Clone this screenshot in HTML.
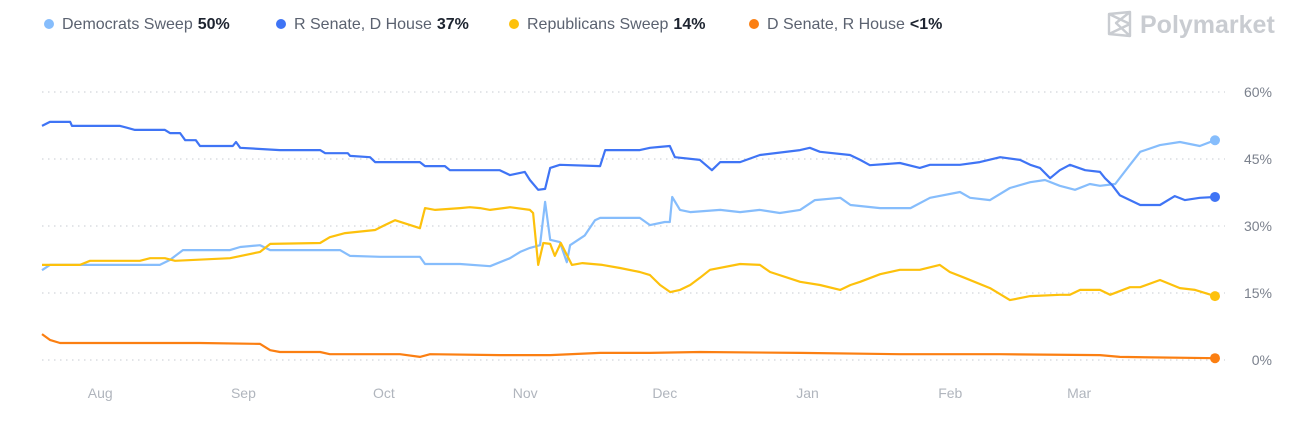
<!DOCTYPE html>
<html><head><meta charset="utf-8">
<style>
body{margin:0;background:#fff;font-family:"Liberation Sans",sans-serif;}
#wrap{position:relative;width:1290px;height:422px;overflow:hidden;}
.leg{position:absolute;top:16px;font-size:16px;color:#5b6270;white-space:nowrap;}
.leg b{color:#1d2430;font-weight:bold;margin-left:5px}
.dot{display:inline-block;width:10px;height:10px;border-radius:50%;margin-right:8px;vertical-align:0px}
</style></head><body>
<div id="wrap">
<div class="leg" style="left:44px"><span class="dot" style="background:#86bdfc"></span>Democrats Sweep<b>50%</b></div>
<div class="leg" style="left:276px"><span class="dot" style="background:#3f74f5"></span>R Senate, D House<b>37%</b></div>
<div class="leg" style="left:509px"><span class="dot" style="background:#fdc10c"></span>Republicans Sweep<b>14%</b></div>
<div class="leg" style="left:749px"><span class="dot" style="background:#fb7f12"></span>D Senate, R House<b>&lt;1%</b></div>
<div style="position:absolute;left:1106px;top:10px;color:#c9ccd1;font-size:25px;font-weight:bold;white-space:nowrap">
<svg width="28" height="28" viewBox="0 0 28 28" style="vertical-align:-5px;margin-right:6px"><path d="M3 4 L24 2 L24 26 L3 24 Z M3 4 L24 14 L3 24 M24 2 L10 13 L24 26" fill="none" stroke="#c9ccd1" stroke-width="2.4" stroke-linejoin="round"/></svg>Polymarket</div>
<svg id="chart" width="1290" height="422" style="position:absolute;left:0;top:0"></svg>
</div>
<script>
const yTicks=[0,15,30,45,60];
const monthLabels=["Aug","Sep","Oct","Nov","Dec","Jan","Feb","Mar"];
const monthDays=[12.6,43.6,74,104.6,134.8,165.7,196.6,224.5];
const rsDays=[0,1.7,6.1,6.5,12.6,16.9,20.1,26.6,27.7,29.9,31,33.3,34.2,41.3,42,42.9,51.5,60.2,61.3,66.2,66.7,71,72.1,81.8,82.9,87.2,88.3,99.1,101.3,104.5,105.6,107.4,108.9,110,112.1,120.8,121.9,129.4,131.6,133.8,135.9,137,142.4,145,146.8,151.1,155.4,164.1,166.2,168.4,174.9,177.1,179.2,185.7,190,192.2,198.7,203,207.4,211.7,213.9,216,218.2,220.3,222.5,225.8,229,230.1,231.6,233.3,235.5,237.7,242,245.2,247.4,250.6,253.9];
const rsVals=[52.4,53.3,53.3,52.4,52.4,52.4,51.5,51.5,50.8,50.8,49.2,49.2,47.9,47.9,48.8,47.5,47,47,46.3,46.3,45.7,45.4,44.3,44.3,43.4,43.4,42.5,42.5,41.4,42.1,40.3,38.1,38.3,43,43.7,43.4,47,47,47.5,47.7,47.9,45.4,44.8,42.5,44.3,44.3,45.9,47,47.5,46.6,45.9,44.8,43.6,44.1,43,43.7,43.7,44.3,45.4,44.8,43.7,43,40.7,42.5,43.7,42.5,42.1,40.7,39.2,36.9,35.8,34.7,34.7,36.7,35.8,36.3,36.5];
const dsDays=[0,1.7,12.6,16.9,25.5,27.7,30.5,40.7,42.9,47.2,49.4,64.5,66.7,73.2,81.8,82.9,90.5,97,101.3,103.5,105.6,107.8,108.9,110,112.1,113.6,114.3,117.5,119.7,120.8,129.4,131.6,134.8,135.9,136.4,138.1,140.3,146.8,151.1,155.4,159.7,164.1,167.3,172.8,175,181.4,188,192.2,198.7,200.9,205.2,209.5,213.9,217.1,220.3,223.6,226.8,229,232.3,235.5,237.7,242,246.3,250.6,253.9];
const dsVals=[20.1,21.3,21.3,21.3,21.3,22.4,24.6,24.6,25.3,25.7,24.6,24.6,23.3,23.1,23.1,21.5,21.5,21,22.8,24.2,25.1,25.7,35.4,26.9,26.4,21.9,25.7,27.9,31.3,31.8,31.8,30.2,30.9,30.9,36.5,33.6,33.1,33.6,33.1,33.6,32.9,33.6,35.8,36.3,34.7,34,34,36.3,37.6,36.3,35.8,38.5,39.8,40.3,39,38.1,39.4,39,39.4,43.7,46.6,48.1,48.8,47.9,49.2];
const rpDays=[0,8.2,10.4,21.2,23.4,26.6,28.8,40.7,47.2,49.4,60.2,62.3,65.6,72.1,74.2,76.4,81.8,82.9,85.1,90.5,92.6,94.8,97,101.3,105.6,106.3,107.4,108.5,110,111,112.3,114.7,117,121.3,125.1,129.4,131.6,133.8,136,138.1,140.3,142.4,144.6,151.1,155.4,157.6,164.1,168.4,172.8,175,177.1,181.4,185.7,190,194.3,196.5,199.7,205.2,209.5,213.9,220.3,222.5,224.7,229,231.2,235.5,237.7,242,246.3,249.6,253.9];
const rpVals=[21.3,21.3,22.2,22.2,22.8,22.8,22.2,22.8,24.2,26,26.2,27.5,28.4,29.1,30.2,31.3,29.5,34,33.6,34,34.2,34,33.6,34.2,33.6,32.9,21.3,26.2,26,23.3,26.2,21.3,21.7,21.3,20.6,19.7,19,16.8,15.2,15.7,16.8,18.4,20.2,21.5,21.3,19.7,17.5,16.8,15.7,16.8,17.5,19.2,20.2,20.2,21.3,19.7,18.4,16.1,13.4,14.3,14.6,14.6,15.7,15.7,14.6,16.3,16.3,17.9,16.1,15.7,14.3];
const drDays=[0,1.7,3.9,12.6,34.2,47.2,49.4,51.5,60.2,62.3,77.5,81.8,84,99.1,110,120.8,131.6,142.4,164.1,185.7,207.4,229,233.3,253.9];
const drVals=[5.8,4.5,3.8,3.8,3.8,3.6,2.2,1.8,1.8,1.3,1.3,0.7,1.3,1.1,1.1,1.6,1.6,1.8,1.6,1.3,1.3,1.1,0.7,0.4];
const X0=42,X1=1215,DMAX=253.9,Y0=360,PPV=4.467;
const xS=d=>X0+(X1-X0)*d/DMAX;
const yS=v=>Y0-v*PPV;
const svg=document.getElementById('chart');
const NS='http://www.w3.org/2000/svg';
function mk(t,a){const e=document.createElementNS(NS,t);for(const k in a)e.setAttribute(k,a[k]);svg.appendChild(e);return e;}
yTicks.forEach(t=>{
 const l=mk('line',{x1:X0,x2:1225,y1:yS(t),y2:yS(t),stroke:'#d2d5da','stroke-width':1.3,'stroke-dasharray':'1.5 4.5'});
 
 
 const tx=mk('text',{x:1272,y:yS(t)+5,'text-anchor':'end','font-size':14,fill:'#7b818d','font-family':'Liberation Sans, sans-serif'});
 tx.textContent=t+'%';
 
 
});
monthLabels.forEach((m,i)=>{
 const tx=mk('text',{x:xS(monthDays[i]),y:398,'text-anchor':'middle','font-size':14,fill:'#b0b5bd','font-family':'Liberation Sans, sans-serif'});
 tx.textContent=m;
 
 
});
const series=[[dsDays,dsVals,'#86bdfc','democrats-sweep'],[rsDays,rsVals,'#3f74f5','r-senate-d-house'],[rpDays,rpVals,'#fdc10c','republicans-sweep'],[drDays,drVals,'#fb7f12','d-senate-r-house']];
series.forEach(s=>{
 const pts=s[0].map((d,i)=>xS(d).toFixed(1)+','+yS(s[1][i]).toFixed(1)).join(' ');
 const p=mk('polyline',{points:pts,fill:'none',stroke:s[2],'stroke-width':2.2,'stroke-linejoin':'round'});
 
 
 const n=s[0].length-1;
 const c=mk('circle',{cx:xS(s[0][n]),cy:yS(s[1][n]),r:5,fill:s[2]});
 
 
});
</script>
</body></html>
